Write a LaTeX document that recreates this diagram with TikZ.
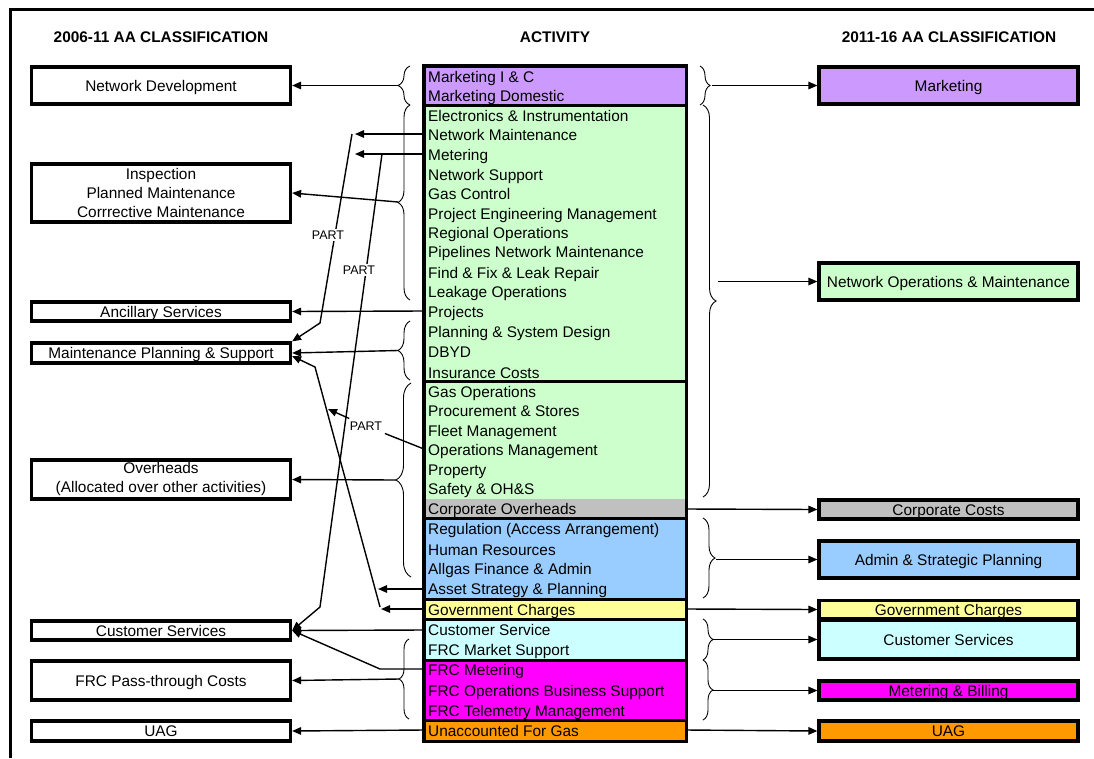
\documentclass[tikz,border=0pt]{standalone}
\usepackage{fontspec}
\setmainfont{Liberation Sans}
\usetikzlibrary{decorations.pathreplacing,arrows.meta}
\definecolor{cpurple}{HTML}{CC99FF}
\definecolor{cgreen}{HTML}{CCFFCC}
\definecolor{cgray}{HTML}{C0C0C0}
\definecolor{cblue}{HTML}{99CCFF}
\definecolor{cyellow}{HTML}{FFFF99}
\definecolor{ccyan}{HTML}{CCFFFF}
\definecolor{cmag}{HTML}{FF00FF}
\definecolor{corange}{HTML}{FF9900}
\begin{document}
\begin{tikzpicture}[x=1pt,y=-1pt,
 every node/.style={font=\fontsize{15.4}{19}\selectfont, text=black},
 box/.style={draw=black, line width=3.2pt, minimum width=259pt, inner sep=0pt, align=center},
 one/.style={text height=14pt, text depth=3pt},
 sec/.style={inner sep=0pt, minimum width=262pt, anchor=north west},
 row/.style={anchor=base west, inner sep=0pt},
 hdr/.style={font=\fontsize{15.4}{19}\selectfont\bfseries},
 arr/.style={line width=1.4pt, -{Triangle[length=9pt,width=7.5pt]}},
 brc/.style={decorate, decoration={brace, amplitude=#1}, line width=0.9pt},
 brc/.default=12,
 part/.style={font=\fontsize{12.5}{14}\selectfont, fill=white, inner sep=2pt},
 partb/.style={font=\fontsize{12.5}{14}\selectfont, inner xsep=6pt, inner ysep=3pt}
]
\useasboundingbox (0,0) rectangle (1094,758);
% frame
\draw[line width=3pt] (10,758) -- (10,9.5) -- (1094,9.5);
% headers
\node[hdr] (h1) at (161,37) {2006-11 AA CLASSIFICATION};
\node[hdr] (h2) at (555,37) {ACTIVITY};
\node[hdr] (h3) at (949,37) {2011-16 AA CLASSIFICATION};
% activity column sections
\node[sec, fill=cpurple, minimum height=39] (s1) at (424,66) {};
\node[sec, fill=cgreen, minimum height=394] (s2) at (424,105) {};
\node[sec, fill=cgray, minimum height=19] (s3) at (424,499) {};
\node[sec, fill=cblue, minimum height=81] (s4) at (424,518) {};
\node[sec, fill=cyellow, minimum height=20] (s5) at (424,599) {};
\node[sec, fill=ccyan, minimum height=41] (s6) at (424,619) {};
\node[sec, fill=cmag, minimum height=60] (s7) at (424,660) {};
\node[sec, fill=corange, minimum height=21] (s8) at (424,720) {};
\draw[line width=3pt] (s1.south west) -- (s1.south east);
\draw[line width=3pt] (424,381) -- (686,381);
\draw[line width=3pt] (s3.south west) -- (s3.south east);
\draw[line width=3pt] (s4.south west) -- (s4.south east);
\draw[line width=3pt] (s5.south west) -- (s5.south east);
\draw[line width=3pt] (s6.south west) -- (s6.south east);
\draw[line width=3pt] (s7.south west) -- (s7.south east);
\draw[line width=3.4pt] (s1.north west) rectangle (s8.south east);
% rows
\foreach \yy/\lab [count=\i] in {76/Marketing I \& C, 95/Marketing Domestic, 115/Electronics \& Instrumentation, 134/Network Maintenance, 154/Metering, 174/Network Support, 193/Gas Control, 213/Project Engineering Management, 232/Regional Operations, 251/Pipelines Network Maintenance, 272/Find \& Fix \& Leak Repair, 291/Leakage Operations, 311/Projects, 331/Planning \& System Design, 351/DBYD, 372/Insurance Costs, 391/Gas Operations, 410/Procurement \& Stores, 430/Fleet Management, 449/Operations Management, 469/Property, 488/Safety \& OH\&S, 508/Corporate Overheads, 528/Regulation (Access Arrangement), 549/Human Resources, 568/Allgas Finance \& Admin, 588/Asset Strategy \& Planning, 609/Government Charges, 629/Customer Service, 649/FRC Market Support, 669/FRC Metering, 690/FRC Operations Business Support, 710/FRC Telemetry Management, 730/Unaccounted For Gas}
{ \node[row] (r\i) at (428,\yy+6.3) {\lab}; }
% left boxes
\node[box, one, minimum height=37] (nd) at (161,85.5) {Network Development};
\node[box, minimum height=58] (insp) at (161,193) {Inspection\\Planned Maintenance\\Corrrective Maintenance};
\node[box, one, minimum height=19] (anc) at (161,311.5) {Ancillary Services};
\node[box, one, minimum height=20] (mps) at (161,353) {Maintenance Planning \& Support};
\node[box, minimum height=39] (ovh) at (161,479.5) {Overheads\\(Allocated over other activities)};
\node[box, one, minimum height=19] (lcs) at (161,630.5) {Customer Services};
\node[box, one, minimum height=39] (frc) at (161,680.5) {FRC Pass-through Costs};
\node[box, one, minimum height=20] (luag) at (161,731) {UAG};
% right boxes
\node[box, one, fill=cpurple, minimum height=37] (rmkt) at (948.5,85.5) {Marketing};
\node[box, one, fill=cgreen, minimum height=37] (rnom) at (948.5,281.5) {Network Operations \& Maintenance};
\node[box, one, fill=cgray, minimum height=19] (rcc) at (948.5,509.5) {Corporate Costs};
\node[box, one, fill=cblue, minimum height=37] (radm) at (948.5,559.5) {Admin \& Strategic Planning};
\node[box, one, fill=cyellow, minimum height=18] (rgov) at (948.5,609.5) {Government Charges};
\node[box, one, fill=ccyan, minimum height=39] (rcs) at (948.5,639.5) {Customer Services};
\node[box, one, fill=cmag, minimum height=19] (rmb) at (948.5,690.5) {Metering \& Billing};
\node[box, one, fill=corange, minimum height=20] (ruag) at (948.5,731) {UAG};
% braces left
\draw[brc=12] (410,105) -- (410,66);
\draw[brc=12] (410,300) -- (410,105);
\draw[brc=12] (410,380) -- (410,321);
\draw[brc=15] (411,577) -- (411,383);
\draw[brc=10] (409,719) -- (409,639);
% braces right
\draw[brc=10] (700,66) -- (700,105);
\draw[brc=13] (703,105) -- (703,497);
\draw[brc=12] (703,518) -- (703,598);
\draw[brc=10] (703,619) -- (703,660);
\draw[brc=10] (703,660) -- (703,720);
% coordinates
\coordinate (bL1) at (398,85.5);
\coordinate (bL2) at (398,202);
\coordinate (bL3) at (398,350.5);
\coordinate (bL4) at (396,480);
\coordinate (bL5) at (399,679);
\coordinate (cNM) at (424,134);
\coordinate (cMet) at (424,154);
\coordinate (cProj) at (424,311);
\coordinate (cOM) at (424,449);
\coordinate (cASP) at (424,589);
\coordinate (cGovL) at (424,609);
\coordinate (cCS) at (424,630);
\coordinate (cFRCM) at (424,669);
\coordinate (cUAGL) at (424,730);
\coordinate (cCO) at (686,509);
\coordinate (cGovR) at (686,609);
\coordinate (cUAGR) at (686,730);
\coordinate (tNM) at (355,134);
\coordinate (tMet) at (355,154);
\coordinate (tGov) at (381,609);
\coordinate (tASP) at (378,589);
\coordinate (tOM) at (328,409);
\coordinate (kA1) at (352,134);
\coordinate (kA2) at (320,323);
\coordinate (kB1) at (382,154);
\coordinate (kB2) at (320,607);
\coordinate (kC1) at (380,607);
\coordinate (kC2) at (315,367);
\coordinate (kFRC) at (380,669);
\coordinate (bR1) at (712,85.5);
\coordinate (bR2) at (718,281.5);
\coordinate (bR3) at (716,559.5);
\coordinate (bR4) at (713,639.5);
\coordinate (bR5) at (713,690.5);
% left connectors
\draw[arr] (bL1) -- (nd.east);
\draw[arr] (bL2) -- (insp.east);
\draw[arr] (cProj) -- (anc.east);
\draw[arr] (bL3) -- (mps.east);
\draw[arr] (bL4) -- (ovh.east);
\draw[arr] (bL5) -- (frc.east);
\draw[arr] (cCS) -- (lcs.east);
\draw[arr] (cFRCM) -- (kFRC) -- (lcs.east);
\draw[arr] (cUAGL) -- (luag.east);
\draw[arr] (cNM) -- (tNM);
\draw[arr] (kA1) -- (kA2) -- (mps.north east);
\draw[arr] (cMet) -- (tMet);
\draw[arr] (kB1) -- (kB2) -- (lcs.east);
\draw[arr] (cGovL) -- (tGov);
\draw[arr] (kC1) -- (kC2) -- ([yshift=-3pt]mps.east);
\draw[arr] (cASP) -- (tASP);
\node[part] (pa) at (328,235) {PART};
\node[part] (pb) at (359,270) {PART};
\node[partb] (pd) at (366,426) {PART};
\draw[line width=1.4pt] (cOM) -- (pd);
\draw[arr] (pd) -- (tOM);
% right connectors
\draw[arr] (bR1) -- (rmkt.west);
\draw[arr] (bR2) -- (rnom.west);
\draw[arr] (cCO) -- (rcc.west);
\draw[arr] (bR3) -- (radm.west);
\draw[arr] (cGovR) -- (rgov.west);
\draw[arr] (bR4) -- (rcs.west);
\draw[arr] (bR5) -- (rmb.west);
\draw[arr] (cUAGR) -- (ruag.west);
\end{tikzpicture}
\end{document}
